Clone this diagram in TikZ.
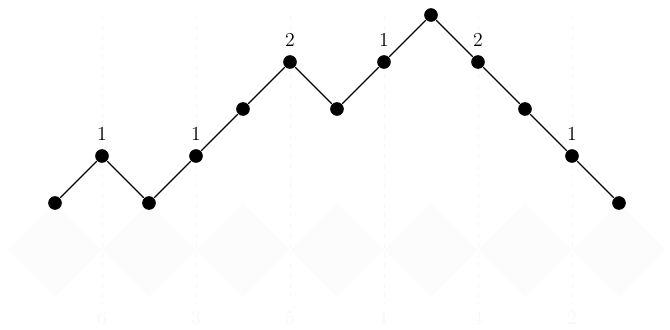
\documentclass[tikz,border=0pt]{standalone}
\usepackage{amsmath,amssymb}
\usepackage{xcolor}
\usepackage{tikz}
\usetikzlibrary{positioning,calc}

\tikzset{
	dot/.style={circle,fill=black,inner sep=0pt,minimum size=0.29cm},
	faint/.style={black!3},
	tile/.style={fill=black!1.2,draw=none},
}

\begin{document}
\begin{tikzpicture}[line width=0.7pt]
		\useasboundingbox (-1.170,-2.681) rectangle (13.085,4.319);

		% faint tiles under the path
		\foreach \k in {0,...,6}
			\fill[tile] (2*\k,0) -- (2*\k+1,-1) -- (2*\k,-2) -- (2*\k-1,-1) -- cycle;

		% dashed guides with their values
		\draw[faint,dashed,thin] (1,4) -- (1,-2.15) node[below=1pt] {\large 6};
		\draw[faint,dashed,thin] (3,4) -- (3,-2.15) node[below=1pt] {\large 3};
		\draw[faint,dashed,thin] (5,4) -- (5,-2.15) node[below=1pt] {\large 5};
		\draw[faint,dashed,thin] (7,4) -- (7,-2.15) node[below=1pt] {\large 1};
		\draw[faint,dashed,thin] (9,4) -- (9,-2.15) node[below=1pt] {\large 4};
		\draw[faint,dashed,thin] (11,4) -- (11,-2.15) node[below=1pt] {\large 2};

		\node[dot] (p0) at (0,0) {};
		\node[dot,label={[label distance=1pt]above:{\large 1}}] (p1) at (1,1) {};
		\node[dot] (p2) at (2,0) {};
		\node[dot,label={[label distance=1pt]above:{\large 1}}] (p3) at (3,1) {};
		\node[dot] (p4) at (4,2) {};
		\node[dot,label={[label distance=1pt]above:{\large 2}}] (p5) at (5,3) {};
		\node[dot] (p6) at (6,2) {};
		\node[dot,label={[label distance=1pt]above:{\large 1}}] (p7) at (7,3) {};
		\node[dot] (p8) at (8,4) {};
		\node[dot,label={[label distance=1pt]above:{\large 2}}] (p9) at (9,3) {};
		\node[dot] (p10) at (10,2) {};
		\node[dot,label={[label distance=1pt]above:{\large 1}}] (p11) at (11,1) {};
		\node[dot] (p12) at (12,0) {};

		\draw (p0) -- (p1) -- (p2) -- (p3) -- (p4) -- (p5) -- (p6)
			-- (p7) -- (p8) -- (p9) -- (p10) -- (p11) -- (p12);
	\end{tikzpicture}
\end{document}
